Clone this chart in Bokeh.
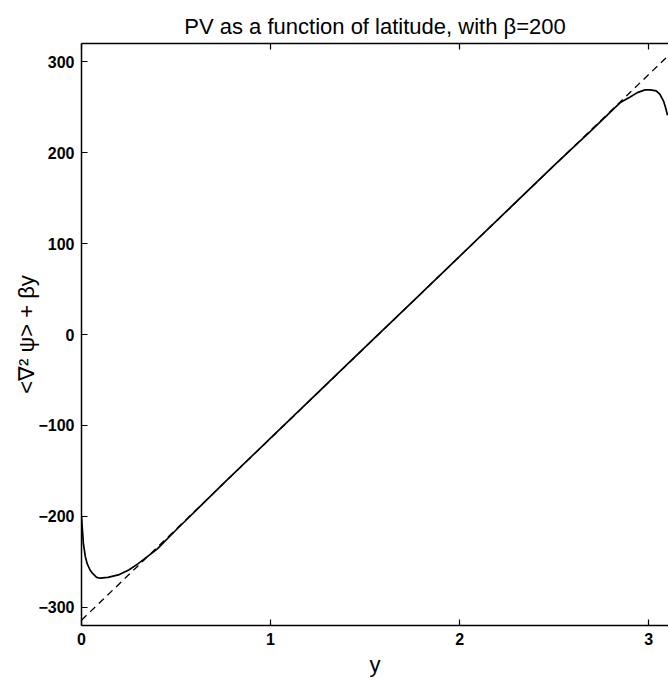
from bokeh.plotting import figure
from bokeh.models import LinearAxis, Range1d, FixedTicker
from bokeh.embed import file_html
from bokeh.resources import INLINE

# latitude samples and PV profile
lat = [0.0, 0.005, 0.01, 0.02, 0.03, 0.045, 0.06, 0.08, 0.10, 0.14, 0.20, 0.25,
       0.30, 0.35, 0.40, 0.50, 0.75, 1.00, 1.25, 1.50, 1.75, 2.00, 2.25, 2.50,
       2.70, 2.80, 2.85, 2.90, 2.94, 2.98, 3.01, 3.04, 3.06, 3.08, 3.09, 3.10]
pv = [-200, -215, -230, -244, -252, -259, -263, -267, -268, -267, -264, -259,
      -252, -244, -236, -215, -164, -114, -64, -14, 36, 86, 136, 186,
      225, 245, 255, 261, 266, 269, 269, 268, 264, 256, 249, 241]

# reference line beta*y - beta*pi/2
line_lat = [0.0, 3.14159]
line_pv = [-314.16, 314.16]

x_ticks = [0, 1, 2, 3]
y_ticks = [-300, -200, -100, 0, 100, 200, 300]

FONT = "Liberation Sans"

p = figure(width=668, height=679, output_backend="svg", toolbar_location=None,
           x_range=Range1d(0, 3.105), y_range=Range1d(-320, 320),
           title="PV as a function of latitude, with \u03b2=200",
           min_border_left=81, min_border_right=0, min_border_top=43,
           min_border_bottom=54)

p.title.align = "center"
p.title.text_font = FONT
p.title.text_font_size = "22px"
p.title.text_font_style = "normal"
p.title.text_color = "black"

p.outline_line_color = None
p.grid.visible = False
p.background_fill_color = "white"
p.border_fill_color = "white"

p.line(lat, pv, line_color="black", line_width=1.7)
p.line(line_lat, line_pv, line_color="black", line_width=1.3, line_dash="7 5")

bottom = p.below[0]
left = p.left[0]

bottom.ticker = FixedTicker(ticks=x_ticks)
bottom.axis_label = "y"
left.ticker = FixedTicker(ticks=y_ticks)
left.axis_label = "<\u2207\u00b2 \u03c8> + \u03b2y"

top = LinearAxis(ticker=FixedTicker(ticks=x_ticks),
                 major_label_overrides={t: "" for t in x_ticks},
                 major_label_standoff=0)
p.add_layout(top, "above")

for ax in [bottom, left, top]:
    ax.major_tick_in = 6
    ax.major_tick_out = 0
    ax.minor_tick_in = 0
    ax.minor_tick_out = 0
    ax.axis_line_color = "black"
    ax.axis_line_width = 1.5
    ax.major_tick_line_color = "black"
    ax.major_tick_line_width = 1.2
    ax.axis_label_text_font = FONT
    ax.axis_label_text_font_size = "22px"
    ax.axis_label_text_font_style = "normal"
    ax.axis_label_text_color = "black"

for ax in [bottom, left]:
    ax.major_label_text_font = FONT
    ax.major_label_text_font_size = "16px"
    ax.major_label_text_font_style = "bold"
    ax.major_label_text_color = "black"
    ax.major_label_standoff = 7

bottom.axis_label_standoff = 4
left.axis_label_standoff = -4

open("out.html", "w").write(file_html(p, INLINE))
